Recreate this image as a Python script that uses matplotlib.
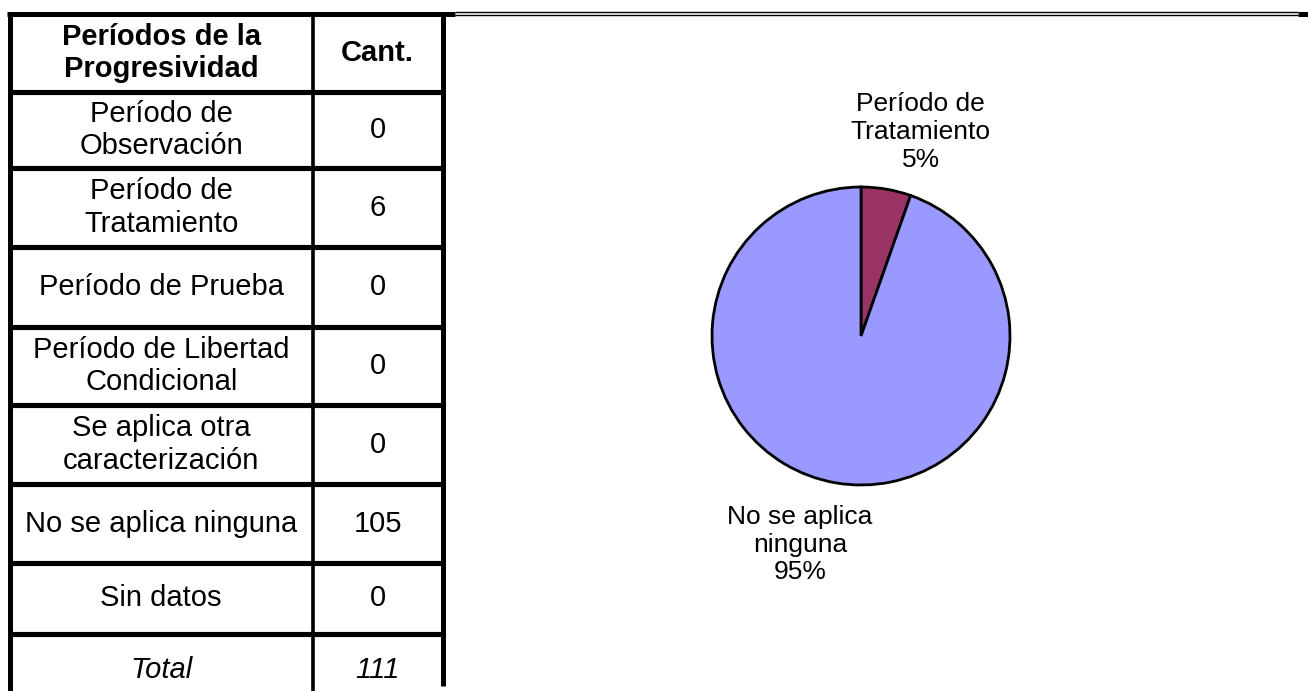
import matplotlib.pyplot as plt

plt.rcParams['font.family'] = ['Liberation Sans', 'DejaVu Sans']

# Datos de la tabla
periodos = ["Período de\nObservación", "Período de\nTratamiento", "Período de Prueba",
            "Período de Libertad\nCondicional", "Se aplica otra\ncaracterización",
            "No se aplica ninguna", "Sin datos"]
cantidades = [0, 6, 0, 0, 0, 105, 0]
total = sum(cantidades)

# Etiquetas y colores del gráfico de torta (solo categorías con valor)
etiquetas_torta = {1: "Período de\nTratamiento", 5: "No se aplica\nninguna"}
colores_torta = {1: "#993366", 5: "#9999FF"}

W, H = 1308, 691
fig = plt.figure(figsize=(W / 100, H / 100), dpi=100)

# Capa en píxeles para la tabla y el marco
ax = fig.add_axes([0, 0, 1, 1])
ax.set_xlim(0, W)
ax.set_ylim(H, 0)
ax.axis("off")

x_izq, x_col, x_der = 9.5, 313, 442.5
filas = [14, 92, 168, 247, 327, 405, 484, 563, 634, 706]
lw_ext = 3.6
lw_int = 3.7

# bordes de la tabla
ax.plot([x_izq, x_izq], [12, H], color="black", lw=lw_ext, solid_capstyle="butt")
ax.plot([x_der, x_der], [12, 686], color="black", lw=lw_ext, solid_capstyle="butt")
ax.plot([x_col, x_col], [14, H], color="black", lw=2.6, solid_capstyle="butt")
ax.plot([7, 455], [14, 14], color="black", lw=lw_ext, solid_capstyle="butt")
for y in filas[1:-1]:
    ax.plot([x_izq, x_der], [y, y], color="black", lw=lw_int, solid_capstyle="butt")

# marco superior del gráfico (línea doble)
ax.plot([455, 1298], [12.2, 12.2], color="black", lw=1.0, solid_capstyle="butt")
ax.plot([455, 1298], [15.3, 15.3], color="black", lw=1.0, solid_capstyle="butt")
ax.plot([1298, 1308], [14, 14], color="black", lw=lw_ext, solid_capstyle="butt")

fs = 21
cx1 = (x_izq + x_col) / 2
cx2 = (x_col + x_der) / 2
ax.text(cx1, (filas[0] + filas[1]) / 2, "Períodos de la\nProgresividad", ha="center",
        va="center", fontsize=fs, fontweight="bold")
ax.text(cx2, (filas[0] + filas[1]) / 2, "Cant.", ha="center", va="center",
        fontsize=fs, fontweight="bold")
for i, (p, c) in enumerate(zip(periodos, cantidades)):
    yc = (filas[i + 1] + filas[i + 2]) / 2
    ax.text(cx1, yc, p, ha="center", va="center", fontsize=fs)
    ax.text(cx2, yc, str(c), ha="center", va="center", fontsize=fs)
yc = (filas[-2] + filas[-1]) / 2
ax.text(cx1, yc, "Total", ha="center", va="center", fontsize=fs, style="italic")
ax.text(cx2, yc, str(total), ha="center", va="center", fontsize=fs, style="italic")

# Gráfico de torta
cx, cy, r = 861, 336, 149
lado = 2.5 * r
ax2 = fig.add_axes([(cx - lado / 2) / W, (H - cy - lado / 2) / H, lado / W, lado / H])
idx = [i for i, c in enumerate(cantidades) if c > 0]
vals = [cantidades[i] for i in idx]
ax2.pie(vals, colors=[colores_torta[i] for i in idx], startangle=90, counterclock=False,
        wedgeprops=dict(edgecolor="black", linewidth=2.0))
ax2.set_xlim(-1.25, 1.25)
ax2.set_ylim(-1.25, 1.25)

pos_etiquetas = {1: (0.40, 1.37), 5: (-0.41, -1.40)}
for i in idx:
    pct = round(cantidades[i] / total * 100)
    x, y = pos_etiquetas[i]
    ax2.text(x, y, f"{etiquetas_torta[i]}\n{pct}%", ha="center", va="center",
             fontsize=19, clip_on=False)

fig.savefig("out.png", dpi=100)
